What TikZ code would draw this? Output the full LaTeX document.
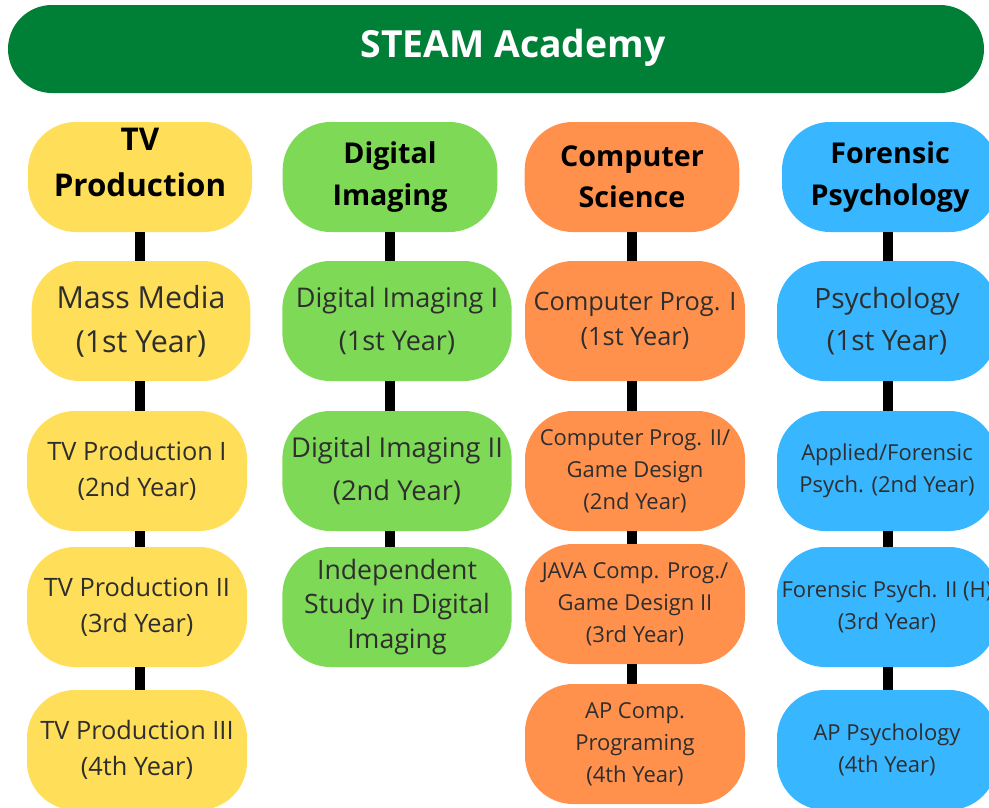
\documentclass[tikz,border=0pt]{standalone}
\usepackage{fontspec}
\setmainfont{Open Sans}
\usepackage{tikz}
\usetikzlibrary{positioning}
\definecolor{bannergreen}{HTML}{008037}
\definecolor{tvyellow}{HTML}{FFDE59}
\definecolor{digreen}{HTML}{7ED957}
\definecolor{csorange}{HTML}{FF914D}
\definecolor{psyblue}{HTML}{38B6FF}

\begin{document}
\begin{tikzpicture}[x=0.75pt,y=-0.75pt, box/.style={rectangle,rounded corners=36pt,inner sep=0pt,align=center,text=black!82}, head/.style={box,minimum height=82.5pt,text=black,font=\bfseries\fontsize{21.5}{31}\selectfont}, course/.style={box,minimum height=90pt}, big/.style={font=\fontsize{21}{32}\selectfont}, mid/.style={font=\fontsize{19}{26.5}\selectfont}, small/.style={font=\fontsize{16.5}{24}\selectfont}, link/.style={line width=7.5pt}]
\useasboundingbox (0,0) rectangle (989,807);
% banner
\node[box,fill=bannergreen,rounded corners=33pt,minimum width=732pt,minimum height=66pt] (banner) at (496,49) {};
\node[text=white,font=\bfseries\fontsize{28}{34}\selectfont] (title) at (513,48) {STEAM Academy};
% TV production
\node[head,fill=tvyellow,minimum width=168pt,font=\bfseries\fontsize{23.5}{34}\selectfont,text depth=22pt] (tv) at (140,177) {TV\\Production};
\node[course,fill=tvyellow,minimum width=164pt,font=\fontsize{22.8}{33}\selectfont] (tva) at (141,321) {Mass Media\\(1st Year)};
\node[course,mid,fill=tvyellow,minimum width=165pt] (tvb) at (137,471) {TV Production I\\(2nd Year)};
\node[course,mid,fill=tvyellow,minimum width=165pt] (tvc) at (137,607) {TV Production II\\(3rd Year)};
\node[course,mid,fill=tvyellow,minimum width=165pt] (tvd) at (137,750) {TV Production III\\(4th Year)};
% digital imaging
\node[head,fill=digreen,minimum width=161pt] (di) at (390,177) {Digital\\Imaging};
\node[course,fill=digreen,minimum width=172pt,font=\fontsize{20.3}{32}\selectfont] (dia) at (397,321) {Digital Imaging I\\(1st Year)};
\node[course,fill=digreen,minimum width=172pt,font=\fontsize{20.5}{32}\selectfont] (dib) at (397,471) {Digital Imaging II\\(2nd Year)};
\node[course,fill=digreen,minimum width=172pt,font=\fontsize{20}{26}\selectfont] (dic) at (397,607) {Independent\\Study in Digital\\Imaging};
% computer science
\node[head,fill=csorange,minimum width=161pt] (cs) at (632,177) {Computer\\Science};
\node[course,mid,fill=csorange,minimum width=165pt] (csa) at (635,321) {Computer Prog. I\\(1st Year)};
\node[course,small,fill=csorange,minimum width=165pt] (csb) at (635,471) {Computer Prog. II/\\Game Design\\(2nd Year)};
\node[course,small,fill=csorange,minimum width=165pt] (csc) at (635,604) {JAVA Comp. Prog./\\Game Design II\\(3rd Year)};
\node[course,small,fill=csorange,minimum width=165pt] (csd) at (635,744) {AP Comp.\\Programing\\(4th Year)};
% forensic psychology
\node[head,fill=psyblue,minimum width=162pt] (fp) at (890,177) {Forensic\\Psychology};
\node[course,big,fill=psyblue,minimum width=165pt] (fpa) at (887,321) {Psychology\\(1st Year)};
\node[course,small,fill=psyblue,minimum width=165pt] (fpb) at (887,471) {Applied/Forensic\\Psych. (2nd Year)};
\node[course,small,fill=psyblue,minimum width=165pt] (fpc) at (887,607) {Forensic Psych. II (H)\\(3rd Year)};
\node[course,small,fill=psyblue,minimum width=165pt] (fpd) at (887,750) {AP Psychology\\(4th Year)};
% links
\draw[link] (tv.south) -- (tv.south |- tva.north);
\draw[link] (tv.south |- tva.south) -- (tv.south |- tvb.north);
\draw[link] (tv.south |- tvb.south) -- (tv.south |- tvc.north);
\draw[link] (tv.south |- tvc.south) -- (tv.south |- tvd.north);
\draw[link] (di.south) -- (di.south |- dia.north);
\draw[link] (di.south |- dia.south) -- (di.south |- dib.north);
\draw[link] (di.south |- dib.south) -- (di.south |- dic.north);
\draw[link] (cs.south) -- (cs.south |- csa.north);
\draw[link] (cs.south |- csa.south) -- (cs.south |- csb.north);
\draw[link] (cs.south |- csb.south) -- (cs.south |- csc.north);
\draw[link] (cs.south |- csc.south) -- (cs.south |- csd.north);
\draw[link] ([xshift=-1.5pt]fp.south) -- ([xshift=-1.5pt]fp.south |- fpa.north);
\draw[link] ([xshift=-1.5pt]fp.south |- fpa.south) -- ([xshift=-1.5pt]fp.south |- fpb.north);
\draw[link] ([xshift=-1.5pt]fp.south |- fpb.south) -- ([xshift=-1.5pt]fp.south |- fpc.north);
\draw[link] ([xshift=-1.5pt]fp.south |- fpc.south) -- ([xshift=-1.5pt]fp.south |- fpd.north);
\end{tikzpicture}
\end{document}
